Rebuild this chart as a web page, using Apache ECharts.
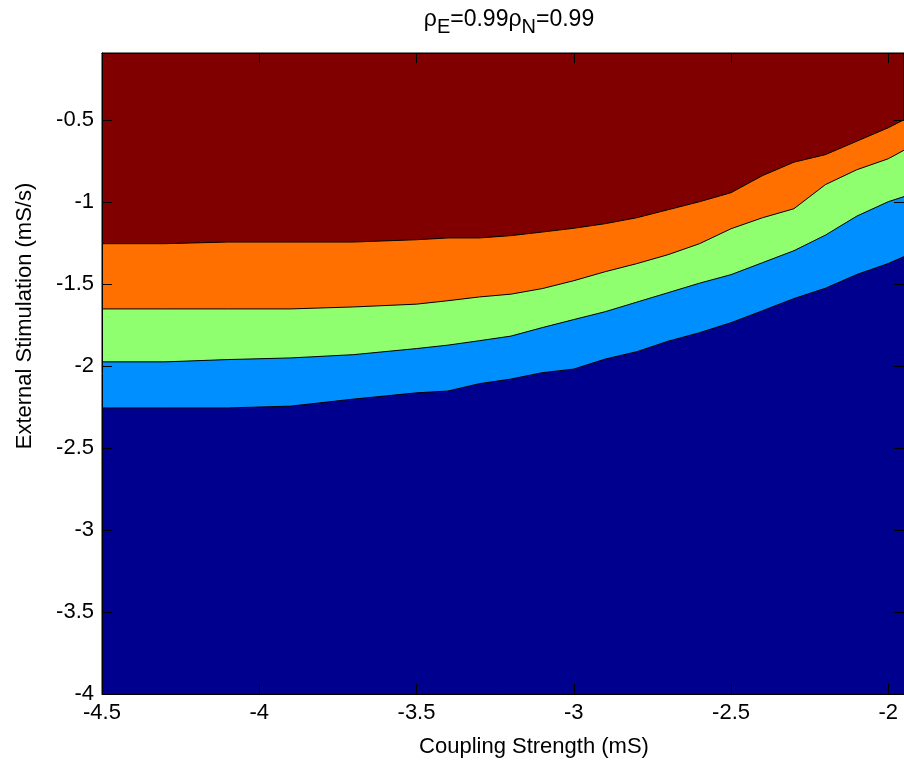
<!DOCTYPE html>
<html>
<head>
<meta charset="utf-8">
<script src="https://cdn.jsdelivr.net/npm/echarts@6/dist/echarts.min.js"></script>
<style>
  html, body { margin: 0; padding: 0; background: #fff; }
  #chart { width: 904px; height: 765px; }
</style>
</head>
<body>
<div id="chart"></div>
<script>
// coupling strength (mS) where the contour lines were read
const couplingX = [-4.5, -4.3, -4.1, -3.9, -3.7, -3.5, -3.4, -3.3, -3.2, -3.1, -3.0,
  -2.9, -2.8, -2.7, -2.6, -2.5, -2.4, -2.3, -2.2, -2.1, -2.0, -1.95]

// contour levels, lowest to highest (external stimulation, mS/s)
const level1 = [-2.255, -2.255, -2.255, -2.244, -2.201, -2.163, -2.152, -2.107, -2.079, -2.040, -2.018,
  -1.957, -1.912, -1.848, -1.796, -1.735, -1.662, -1.588, -1.525, -1.441, -1.374, -1.332]
const level2 = [-1.974, -1.974, -1.960, -1.950, -1.930, -1.893, -1.872, -1.845, -1.817, -1.765, -1.716,
  -1.668, -1.610, -1.552, -1.494, -1.442, -1.369, -1.296, -1.201, -1.085, -0.997, -0.966]
const level3 = [-1.651, -1.651, -1.651, -1.651, -1.639, -1.622, -1.601, -1.578, -1.561, -1.527, -1.479,
  -1.424, -1.375, -1.320, -1.253, -1.162, -1.095, -1.040, -0.893, -0.802, -0.735, -0.683]
const level4 = [-1.253, -1.253, -1.243, -1.243, -1.243, -1.229, -1.218, -1.218, -1.204, -1.182, -1.159,
  -1.131, -1.095, -1.046, -0.997, -0.942, -0.838, -0.756, -0.710, -0.628, -0.546, -0.497]

const xTicks = { min: -4.5, max: -1.95, step: 0.5 }
const yTicks = { min: -4, max: -0.09, step: 0.5 }

const FONT = 'Liberation Sans'

function pairs(ys) {
  return couplingX.map((x, i) => [x, ys[i]])
}

function band(name, ys, color) {
  return {
    name: name,
    type: 'line',
    data: pairs(ys),
    showSymbol: false,
    silent: true,
    lineStyle: { color: '#000', width: 1 },
    areaStyle: { color: color, opacity: 1, origin: 'start' }
  }
}

function axisCommon(extra) {
  return Object.assign({
    type: 'value',
    z: 10,
    axisLine: { show: true, onZero: false, lineStyle: { color: '#000', width: 1 } },
    axisTick: { show: true, inside: true, length: 10, lineStyle: { color: '#000', width: 1 } },
    splitLine: { show: false },
    axisLabel: { color: '#000', fontSize: 22, fontFamily: FONT, showMaxLabel: false, margin: 8 }
  }, extra)
}

const chart = echarts.init(document.getElementById('chart'))
chart.setOption({
  animation: false,
  title: {
    text: '{g|ρ}{s|E}{n|=0.99}{g|ρ}{s|N}{n|=0.99}',
    left: 504,
    textAlign: 'center',
    top: 3,
    textStyle: {
      fontWeight: 'normal',
      rich: {
        g: { fontSize: 23, fontFamily: FONT, fontWeight: 'normal', color: '#000', lineHeight: 24, verticalAlign: 'top' },
        n: { fontSize: 23, fontFamily: FONT, fontWeight: 'normal', color: '#000', lineHeight: 24, verticalAlign: 'top' },
        s: { fontSize: 20, fontFamily: FONT, fontWeight: 'normal', color: '#000', lineHeight: 20, verticalAlign: 'top', padding: [9, 0, 0, 0] }
      }
    }
  },
  grid: {
    left: 102,
    right: 0,
    top: 53,
    bottom: 71,
    show: true,
    backgroundColor: '#800000',
    borderColor: '#000',
    borderWidth: 1
  },
  xAxis: [
    axisCommon({ position: 'bottom', min: xTicks.min, max: xTicks.max, interval: xTicks.step }),
    axisCommon({ position: 'top', min: xTicks.min, max: xTicks.max, interval: xTicks.step, axisLabel: { show: false } })
  ],
  yAxis: [
    axisCommon({ position: 'left', min: yTicks.min, max: yTicks.max, interval: yTicks.step }),
    axisCommon({ position: 'right', min: yTicks.min, max: yTicks.max, interval: yTicks.step, axisLabel: { show: false } })
  ],
  series: [
    band('level4', level4, '#ff7000'),
    band('level3', level3, '#8fff70'),
    band('level2', level2, '#008fff'),
    band('level1', level1, '#00008f')
  ],
  graphic: [
    {
      type: 'text',
      x: 534,
      y: 747,
      style: {
        text: 'Coupling Strength (mS)',
        fontSize: 22,
        fontFamily: FONT,
        fill: '#000',
        align: 'center',
        verticalAlign: 'middle'
      }
    },
    {
      type: 'text',
      x: 25,
      y: 316,
      rotation: Math.PI / 2,
      style: {
        text: 'External Stimulation (mS/s)',
        fontSize: 22,
        fontFamily: FONT,
        fill: '#000',
        align: 'center',
        verticalAlign: 'middle'
      }
    }
  ]
})
</script>
</body>
</html>
